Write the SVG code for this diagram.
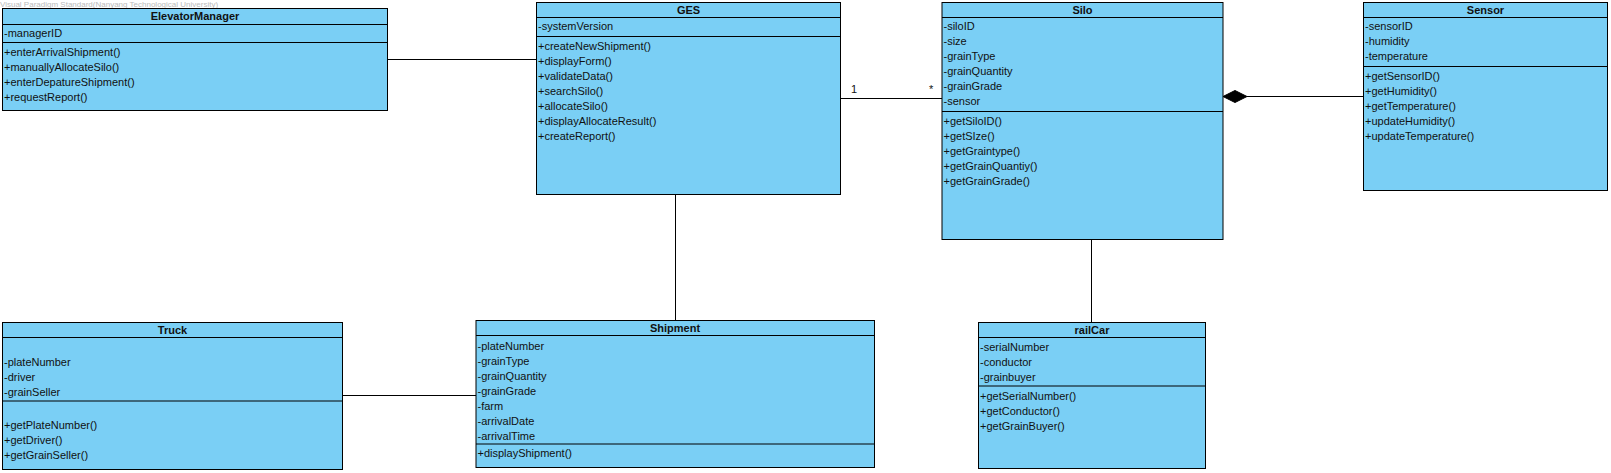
<svg xmlns="http://www.w3.org/2000/svg" width="1611" height="473" viewBox="0 0 1611 473">
<style>
.box{fill:#7ACFF5;stroke:#000;stroke-width:1}
.div{stroke:#000;stroke-width:1}
text{font-family:"Liberation Sans",Arial,sans-serif;font-size:11px;fill:#111}
.t{font-weight:bold;text-anchor:middle}
.wm{font-size:8px;fill:#bbb}
.c{stroke:#000;stroke-width:1;fill:none}
</style>
<rect width="1611" height="473" fill="#fff"/>
<text class="wm" x="0" y="7">Visual Paradigm Standard(Nanyang Technological University)</text>
<g id="connectors">
<line class="c" x1="388" y1="59.5" x2="536" y2="59.5"/>
<line class="c" x1="841" y1="98.5" x2="942" y2="98.5"/>
<text x="851" y="93">1</text>
<text x="929" y="93">*</text>
<line class="c" x1="675.5" y1="194" x2="675.5" y2="320"/>
<line class="c" x1="1091.5" y1="239" x2="1091.5" y2="322"/>
<line class="c" x1="343" y1="395.5" x2="476" y2="395.5"/>
<line class="c" x1="1247" y1="96.5" x2="1363" y2="96.5"/>
<polygon points="1223,96.5 1235,90.5 1247,96.5 1235,102.5" fill="#000" stroke="#000"/>
</g>
<g id="ElevatorManager">
<rect class="box" x="2.5" y="8.5" width="385" height="102"/>
<line class="div" x1="2.5" y1="24.5" x2="387.5" y2="24.5"/>
<line class="div" x1="2.5" y1="42.5" x2="387.5" y2="42.5"/>
<text class="t" x="195" y="20">ElevatorManager</text>
<text x="4" y="37">-managerID</text>
<text x="4" y="56">+enterArrivalShipment()</text>
<text x="4" y="71">+manuallyAllocateSilo()</text>
<text x="4" y="86">+enterDepatureShipment()</text>
<text x="4" y="101">+requestReport()</text>
</g>
<g id="GES">
<rect class="box" x="536.5" y="2.5" width="304" height="192"/>
<line class="div" x1="536.5" y1="17.5" x2="840.5" y2="17.5"/>
<line class="div" x1="536.5" y1="36.5" x2="840.5" y2="36.5"/>
<text class="t" x="688.5" y="14">GES</text>
<text x="538" y="30">-systemVersion</text>
<text x="538" y="50">+createNewShipment()</text>
<text x="538" y="65">+displayForm()</text>
<text x="538" y="80">+validateData()</text>
<text x="538" y="95">+searchSilo()</text>
<text x="538" y="110">+allocateSilo()</text>
<text x="538" y="125">+displayAllocateResult()</text>
<text x="538" y="140">+createReport()</text>
</g>
<g id="Silo">
<rect class="box" x="942" y="2.5" width="281" height="237"/>
<line class="div" x1="942" y1="17.5" x2="1223" y2="17.5"/>
<line class="div" x1="942" y1="111.5" x2="1223" y2="111.5"/>
<text class="t" x="1082.5" y="14">Silo</text>
<text x="943.5" y="30">-siloID</text>
<text x="943.5" y="45">-size</text>
<text x="943.5" y="60">-grainType</text>
<text x="943.5" y="75">-grainQuantity</text>
<text x="943.5" y="90">-grainGrade</text>
<text x="943.5" y="105">-sensor</text>
<text x="943.5" y="125">+getSiloID()</text>
<text x="943.5" y="140">+getSIze()</text>
<text x="943.5" y="155">+getGraintype()</text>
<text x="943.5" y="170">+getGrainQuantiy()</text>
<text x="943.5" y="185">+getGrainGrade()</text>
</g>
<g id="Sensor">
<rect class="box" x="1363.5" y="2.5" width="244" height="188"/>
<line class="div" x1="1363.5" y1="17.5" x2="1607.5" y2="17.5"/>
<line class="div" x1="1363.5" y1="66.5" x2="1607.5" y2="66.5"/>
<text class="t" x="1485.5" y="14">Sensor</text>
<text x="1365" y="30">-sensorID</text>
<text x="1365" y="45">-humidity</text>
<text x="1365" y="60">-temperature</text>
<text x="1365" y="80">+getSensorID()</text>
<text x="1365" y="95">+getHumidity()</text>
<text x="1365" y="110">+getTemperature()</text>
<text x="1365" y="125">+updateHumidity()</text>
<text x="1365" y="140">+updateTemperature()</text>
</g>
<g id="Truck">
<rect class="box" x="2.5" y="322.5" width="340" height="147"/>
<line class="div" x1="2.5" y1="337.5" x2="342.5" y2="337.5"/>
<line class="div" x1="2.5" y1="401" x2="342.5" y2="401"/>
<text class="t" x="172.5" y="334">Truck</text>
<text x="4" y="366">-plateNumber</text>
<text x="4" y="381">-driver</text>
<text x="4" y="396">-grainSeller</text>
<text x="4" y="428.5">+getPlateNumber()</text>
<text x="4" y="443.5">+getDriver()</text>
<text x="4" y="458.5">+getGrainSeller()</text>
</g>
<g id="Shipment">
<rect class="box" x="476" y="320.5" width="398.5" height="147"/>
<line class="div" x1="476" y1="335.5" x2="874.5" y2="335.5"/>
<line class="div" x1="476" y1="444" x2="874.5" y2="444"/>
<text class="t" x="675" y="332">Shipment</text>
<text x="477.5" y="350">-plateNumber</text>
<text x="477.5" y="365">-grainType</text>
<text x="477.5" y="380">-grainQuantity</text>
<text x="477.5" y="395">-grainGrade</text>
<text x="477.5" y="410">-farm</text>
<text x="477.5" y="425">-arrivalDate</text>
<text x="477.5" y="440">-arrivalTime</text>
<text x="477.5" y="457">+displayShipment()</text>
</g>
<g id="railCar">
<rect class="box" x="978.5" y="322.5" width="227" height="146"/>
<line class="div" x1="978.5" y1="337.5" x2="1205.5" y2="337.5"/>
<line class="div" x1="978.5" y1="386" x2="1205.5" y2="386"/>
<text class="t" x="1092" y="334">railCar</text>
<text x="980" y="351">-serialNumber</text>
<text x="980" y="366">-conductor</text>
<text x="980" y="381">-grainbuyer</text>
<text x="980" y="399.5">+getSerialNumber()</text>
<text x="980" y="414.5">+getConductor()</text>
<text x="980" y="429.5">+getGrainBuyer()</text>
</g>
</svg>
